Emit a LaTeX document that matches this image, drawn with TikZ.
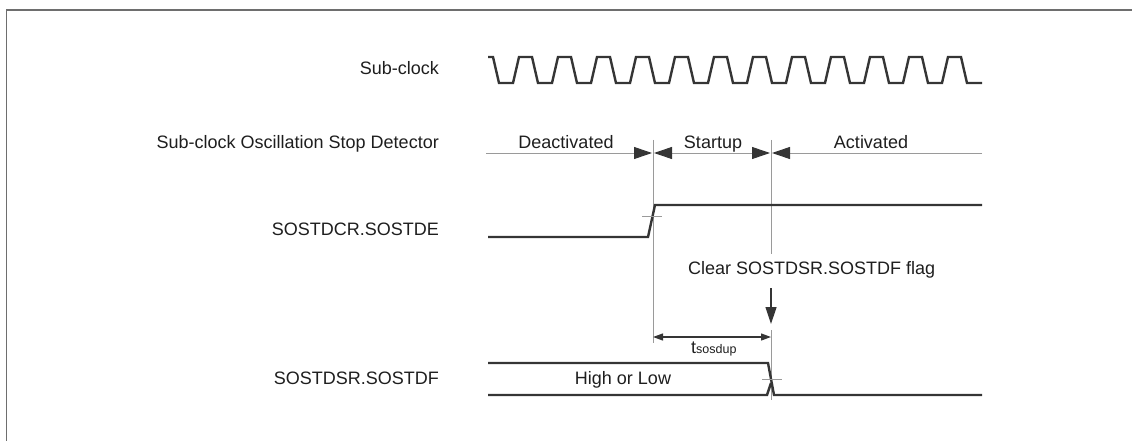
\documentclass[tikz,border=0pt]{standalone}
\usepackage{fontspec}
\setmainfont{Liberation Sans}
\usetikzlibrary{arrows.meta}
\definecolor{wave}{HTML}{353535}
\definecolor{guide}{HTML}{9A9A9A}
\definecolor{framec}{HTML}{6E6E6E}
\definecolor{txt}{HTML}{1E1E1E}
\begin{document}
\begin{tikzpicture}[x=1pt,y=-1pt,
  lbl/.style={text=txt,font=\fontsize{18}{21}\selectfont,inner sep=0pt},
  wav/.style={draw=wave,line width=2.4pt,line join=miter},
  guideline/.style={draw=guide,line width=1pt},
  bigtip/.style={{Triangle[length=18pt,width=12pt,color=wave]}},
  spanarrow/.style={draw=guide,line width=1pt},
  dimline/.style={draw=wave,line width=1.2pt},
  ticklin/.style={draw=guide,line width=1pt}]
\useasboundingbox (0,0) rectangle (1132,441);
% frame
\draw[framec,line width=1.8pt] (6.5,441) -- (6.5,10) -- (1132,10);
% labels
\node[lbl,anchor=base east] (lclk) at (439,75) {Sub-clock};
\node[lbl,anchor=base east] (ldet) at (439,148) {Sub-clock Oscillation Stop Detector};
\node[lbl,anchor=base east] (lde) at (439,235) {SOSTDCR.SOSTDE};
\node[lbl,anchor=base east] (ldf) at (439,384) {SOSTDSR.SOSTDF};
\node[lbl,anchor=base] (deact) at (566,148) {Deactivated};
\node[lbl,anchor=base] (startup) at (713,148) {Startup};
\node[lbl,anchor=base] (act) at (871,148) {Activated};
\node[lbl,anchor=base west] (clr) at (688,274) {Clear SOSTDSR.SOSTDF flag};
\node[lbl,anchor=base] (hol) at (623,384) {High or Low};
\node[lbl,anchor=base west] (tsd) at (691,353) {t{\fontsize{12.5}{14}\selectfont sosdup}};
% coordinates
\coordinate (dL) at (486,153);
\coordinate (dA) at (652,153);
\coordinate (dB) at (654,153);
\coordinate (dC) at (770,153);
\coordinate (dD) at (772,153);
\coordinate (dR) at (982,153);
\coordinate (g1t) at (653,140);
\coordinate (g1b) at (653,343);
\coordinate (g2t) at (771,140);
\coordinate (g2m) at (771,254);
\coordinate (g2n) at (771,330);
\coordinate (g2b) at (771,400);
\coordinate (tA) at (653,337);
\coordinate (tB) at (771,337);
\coordinate (cA) at (771,288);
\coordinate (cB) at (771,324);
% guides
\draw[guideline] (g1t) -- (g1b);
\draw[guideline] (g2t) -- (g2m);
\draw[guideline] (g2n) -- (g2b);
% detector spans
\draw[spanarrow,-{Triangle[length=18pt,width=12pt,color=wave]}] (dL) -- (dA);
\draw[spanarrow,{Triangle[length=18pt,width=12pt,color=wave]}-{Triangle[length=18pt,width=12pt,color=wave]}] (dB) -- (dC);
\draw[spanarrow,-{Triangle[length=18pt,width=12pt,color=wave]}] (dR) -- (dD);
% clock
\draw[wav] (488,57) \foreach \k in {0,...,11} { -- ({493+39*\k},57) -- ({499+39*\k},83) -- ({513+39*\k},83) -- ({519+39*\k},57) } -- (961,57) -- (967,83) -- (982,83);
% SOSTDE
\draw[wav] (488,237) -- (648,237) -- (655,205) -- (982,205);
\draw[ticklin] (642,216) -- (662,216);
% tsosdup
\draw[dimline,{Triangle[length=10pt,width=7pt]}-{Triangle[length=10pt,width=7pt]}] (tA) -- (tB);
% clear arrow
\draw[dimline,-{Triangle[length=17pt,width=11pt]}] (cA) -- (cB);
% SOSTDF
\draw[wav] (488,363) -- (768,363) -- (774,395) -- (982,395);
\draw[wav] (488,395) -- (767,395) -- (771,383);
\draw[ticklin] (762,379) -- (782,379);
\end{tikzpicture}
\end{document}
